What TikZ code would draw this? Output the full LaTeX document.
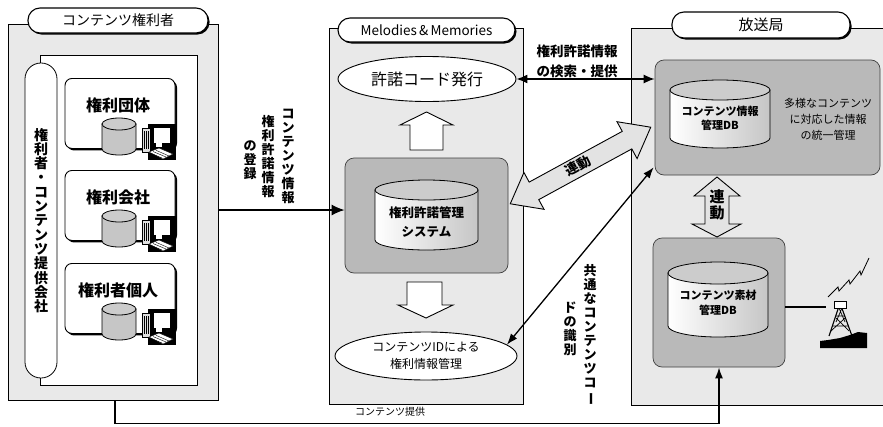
\documentclass[tikz,border=0pt]{standalone}
\usepackage{fontspec}
\setmainfont{Noto Sans CJK JP}
\usetikzlibrary{arrows.meta,shapes.geometric,shadows,calc}

% database cylinder: centre x, top ellipse y, bottom ellipse y, x radius, y radius, body style
\newcommand\dbcyl[6]{%
  \path[#6] (#1-#4,#2) -- (#1-#4,#3) arc[start angle=180,end angle=0,x radius=#4,y radius=#5] -- (#1+#4,#2) -- cycle;
  \filldraw[cyltop] (#1,#2) ellipse[x radius=#4,y radius=#5];
}

\tikzset{
  panel/.style={draw=black, line width=0.9pt, fill=gray!17, inner sep=0pt},
  whitebox/.style={draw=black, line width=0.8pt, fill=white, inner sep=0pt},
  titlepill/.style={draw=black, line width=1.1pt, fill=white, rounded corners=12pt, inner sep=0pt,
    drop shadow={shadow xshift=1.5pt, shadow yshift=-1.5pt, fill=black, opacity=1}},
  holder/.style={draw=black, line width=0.9pt, fill=white, rounded corners=7pt, inner sep=0pt,
    drop shadow={shadow xshift=2pt, shadow yshift=-2pt, fill=black, opacity=1}},
  graybox/.style={draw=black!75, line width=0.7pt, fill=gray!55, rounded corners=9pt, inner sep=0pt},
  oval/.style={ellipse, draw=black, line width=0.9pt, fill=white, inner sep=0pt, align=center},
  conn/.style={line width=1.6pt},
  blockarrow/.style={draw=black, line width=0.9pt, fill=white, line join=miter},
  linkarrow/.style={blockarrow, fill=gray!22},
  vcol/.style={align=center, inner sep=0pt, font=\bfseries\fontsize{13}{14}\selectfont},
  cylbody/.style={draw=black, line width=0.8pt, left color=white, right color=gray!45},
  leftcyl/.style={draw=black, line width=0.8pt, fill=gray!45},
  cyltop/.style={draw=black, line width=0.8pt, fill=gray!40},
  pcicon/.pic={
    \fill[black] (6,2) rectangle (34,38);
    \filldraw[fill=gray!25, draw=black, line width=0.4pt] (0,6) rectangle (8,30);
    \draw[line width=0.4pt] (2,9) -- (2,27) (4,9) -- (4,27) (6,9) -- (6,27);
    \filldraw[fill=white, draw=black, line width=0.4pt] (11,5) rectangle (28,21);
    \fill[white] (14,21) rectangle (20,25);
    \filldraw[fill=white, draw=black, line width=0.4pt] (7,30) -- (17,26) -- (31,32) -- (21,37) -- cycle;
    \draw[line width=0.4pt] (11,29.5) -- (24,35) (14,28.3) -- (27,34) (9,31.5) -- (20,36);
  },
}

\begin{document}
\begin{tikzpicture}[x=1pt,y=-1pt]
\clip (0,0) rectangle (883,426);
\fill[white] (0,0) rectangle (883,426);

% ---------- rights holders ----------
\node[panel, minimum width=210pt, minimum height=376pt] (lp) at (113,212) {};
\node[whitebox, minimum width=157pt, minimum height=330pt] (lpi) at (118.5,220) {};
\node[whitebox, rounded corners=15.9pt, minimum width=32pt, minimum height=315pt, align=center,
      font=\bfseries\fontsize{14}{14.3}\selectfont] (prov) at (41,220.5)
      {権\\利\\者\\・\\コ\\ン\\テ\\ン\\ツ\\提\\供\\会\\社};
\node[titlepill, minimum width=180pt, minimum height=25pt, font=\fontsize{14}{16}\selectfont] (lpt) at (118,20.5) {コンテンツ権利者};

\foreach \yy/\nm/\lab in {78/org/権利団体, 170/corp/権利会社, 263/indv/権利者個人} {
  \node[holder, minimum width=110pt, minimum height=70pt, anchor=north] (\nm) at (120,\yy) {};
  \node[font=\bfseries\fontsize{16}{18}\selectfont] (\nm-t) at (118,\yy+27) {\lab};
  \dbcyl{119}{\yy+46}{\yy+71}{17}{6}{leftcyl}
  \pic at (142,\yy+44) {pcicon};
}

% ---------- Melodies & Memories ----------
\node[panel, minimum width=194pt, minimum height=376pt] (mm) at (426,216) {};
\node[titlepill, minimum width=177pt, minimum height=24pt, font=\fontsize{13.5}{15}\selectfont] (mmt) at (426.5,30) {Melodies\,\&\,Memories};
\node[oval, minimum width=178pt, minimum height=45pt, font=\fontsize{16}{18}\selectfont] (code) at (427,79) {許諾コード発行};
\node[graybox, minimum width=163pt, minimum height=115pt] (sys) at (426.5,215.5) {};
\dbcyl{426.5}{190}{240}{51.5}{10}{cylbody}
\node[font=\bfseries\fontsize{12.5}{19}\selectfont, align=center] (sys-t) at (426.5,222.5) {権利許諾管理\\システム};
\node[oval, minimum width=182pt, minimum height=48pt, font=\fontsize{12}{16.5}\selectfont] (idm) at (426,356) {コンテンツIDによる\\権利情報管理};
\draw[blockarrow] (426.5,112) -- (453,125) -- (443,125) -- (443,150) -- (410,150) -- (410,125) -- (400,125) -- cycle;
\draw[blockarrow] (407,282) -- (442,282) -- (442,305) -- (453,305) -- (426,318) -- (398,305) -- (407,305) -- cycle;

% ---------- broadcaster ----------
\node[panel, minimum width=264pt, minimum height=377pt] (bc) at (763,216.5) {};
\node[titlepill, minimum width=178pt, minimum height=26pt, font=\fontsize{15}{17}\selectfont] (bct) at (761,25) {放送局};
\node[graybox, minimum width=225pt, minimum height=115pt] (cidb) at (767.5,117.5) {};
\dbcyl{720}{90}{138}{50}{10}{cylbody}
\node[font=\bfseries\fontsize{11}{14}\selectfont, align=center] (cidb-t) at (720,118.5) {コンテンツ情報\\管理DB};
\node[font=\fontsize{11}{16}\selectfont, align=center] (cidb-n) at (828,119) {多様なコンテンツ\\に対応した情報\\の統一管理};
\node[graybox, minimum width=132pt, minimum height=129pt] (mdb) at (719,302.5) {};
\dbcyl{718}{273}{326}{50}{11}{cylbody}
\node[font=\bfseries\fontsize{11}{15}\selectfont, align=center] (mdb-t) at (718,302.5) {コンテンツ素材\\管理DB};

% link between the two databases
\draw[linkarrow] (717,177) -- (740,196) -- (729,196) -- (729,224) -- (741,224) -- (717,237)
  -- (692,224) -- (705,224) -- (705,196) -- (694,196) -- cycle;
\node[font=\bfseries\fontsize{15}{16.5}\selectfont, align=center] (lk2) at (717,205) {連\\動};

% link between the rights system and the broadcaster
\begin{scope}[shift={(580.5,165.5)}, rotate=28.6]
  \draw[linkarrow] (-80,0) -- (-53,-21) -- (-53,-10) -- (53,-10) -- (53,-21) -- (80,0)
    -- (53,21) -- (53,10) -- (-53,10) -- (-53,21) -- cycle;
\end{scope}
\node[rotate=28.6, inner sep=0pt, font=\bfseries\fontsize{13.5}{15}\selectfont] (lk1) at (578,166) {連動};

% transmitter
\coordinate (ant) at (826,307);
\draw[line width=1.4pt] ($(mdb.east)+(0,4.5)$) -- (ant);
\fill[black] (820,348) -- (820,341) -- (828,340) -- (840,338) -- (850,335) -- (858,332) -- (867,333) -- (867,348) -- cycle;
\draw[line width=1.1pt] (829,336) -- (840,303) -- (852,336);
\draw[line width=0.7pt] (833,326) -- (848,326) (836,316) -- (845,316) (831,331) -- (845,318) (849,331) -- (836,318) (836,322) -- (842,308) (845,322) -- (839,308);
\filldraw[fill=white, draw=black, line width=0.7pt] (834,301) rectangle (846,308);
\draw[line width=0.8pt] (828,297) -- (838,287) -- (839,291) -- (849,280) -- (850,284) -- (860,271) -- (861,275) -- (869,258);

% ---------- connectors ----------
\coordinate (regy) at (0,210);
\draw[conn, -{Latex[length=13pt,width=11pt]}] (lp.east |- regy) -- (sys.west |- regy);
\node[vcol] (rg1) at (288,156) {コ\\ン\\テ\\ン\\ツ\\情\\報};
\node[vcol] (rg2) at (268,157) {権\\利\\許\\諾\\情\\報};
\node[vcol] (rg3) at (250,160) {の\\登\\録};

\draw[conn, line width=1.4pt, {Latex[length=11pt,width=9pt]}-{Latex[length=11pt,width=9pt]}] (code.east) -- (cidb.west |- code.east);
\node[font=\bfseries\fontsize{13.5}{20}\selectfont, align=left] (srch) at (577,61) {権利許諾情報\\の検索・提供};

\draw[conn, line width=1.3pt, {Latex[length=11pt,width=8pt]}-{Latex[length=11pt,width=8pt]}] (idm.8) -- ($(cidb.south west)+(-1,-8)$);
\node[vcol] (cc1) at (590,335) {共\\通\\な\\コ\\ン\\テ\\ン\\ツ\\コ\\\rotatebox[origin=c]{-90}{ー}};
\node[vcol] (cc2) at (570,329) {ド\\の\\識\\別};

\draw[conn, -{Latex[length=11pt,width=8pt]}] ($(lp.south)+(2,0)$) -- ++(0,23) -| (mdb.south);
\node[font=\fontsize{10}{12}\selectfont] (prv) at (390,412) {コンテンツ提供};
\end{tikzpicture}
\end{document}
